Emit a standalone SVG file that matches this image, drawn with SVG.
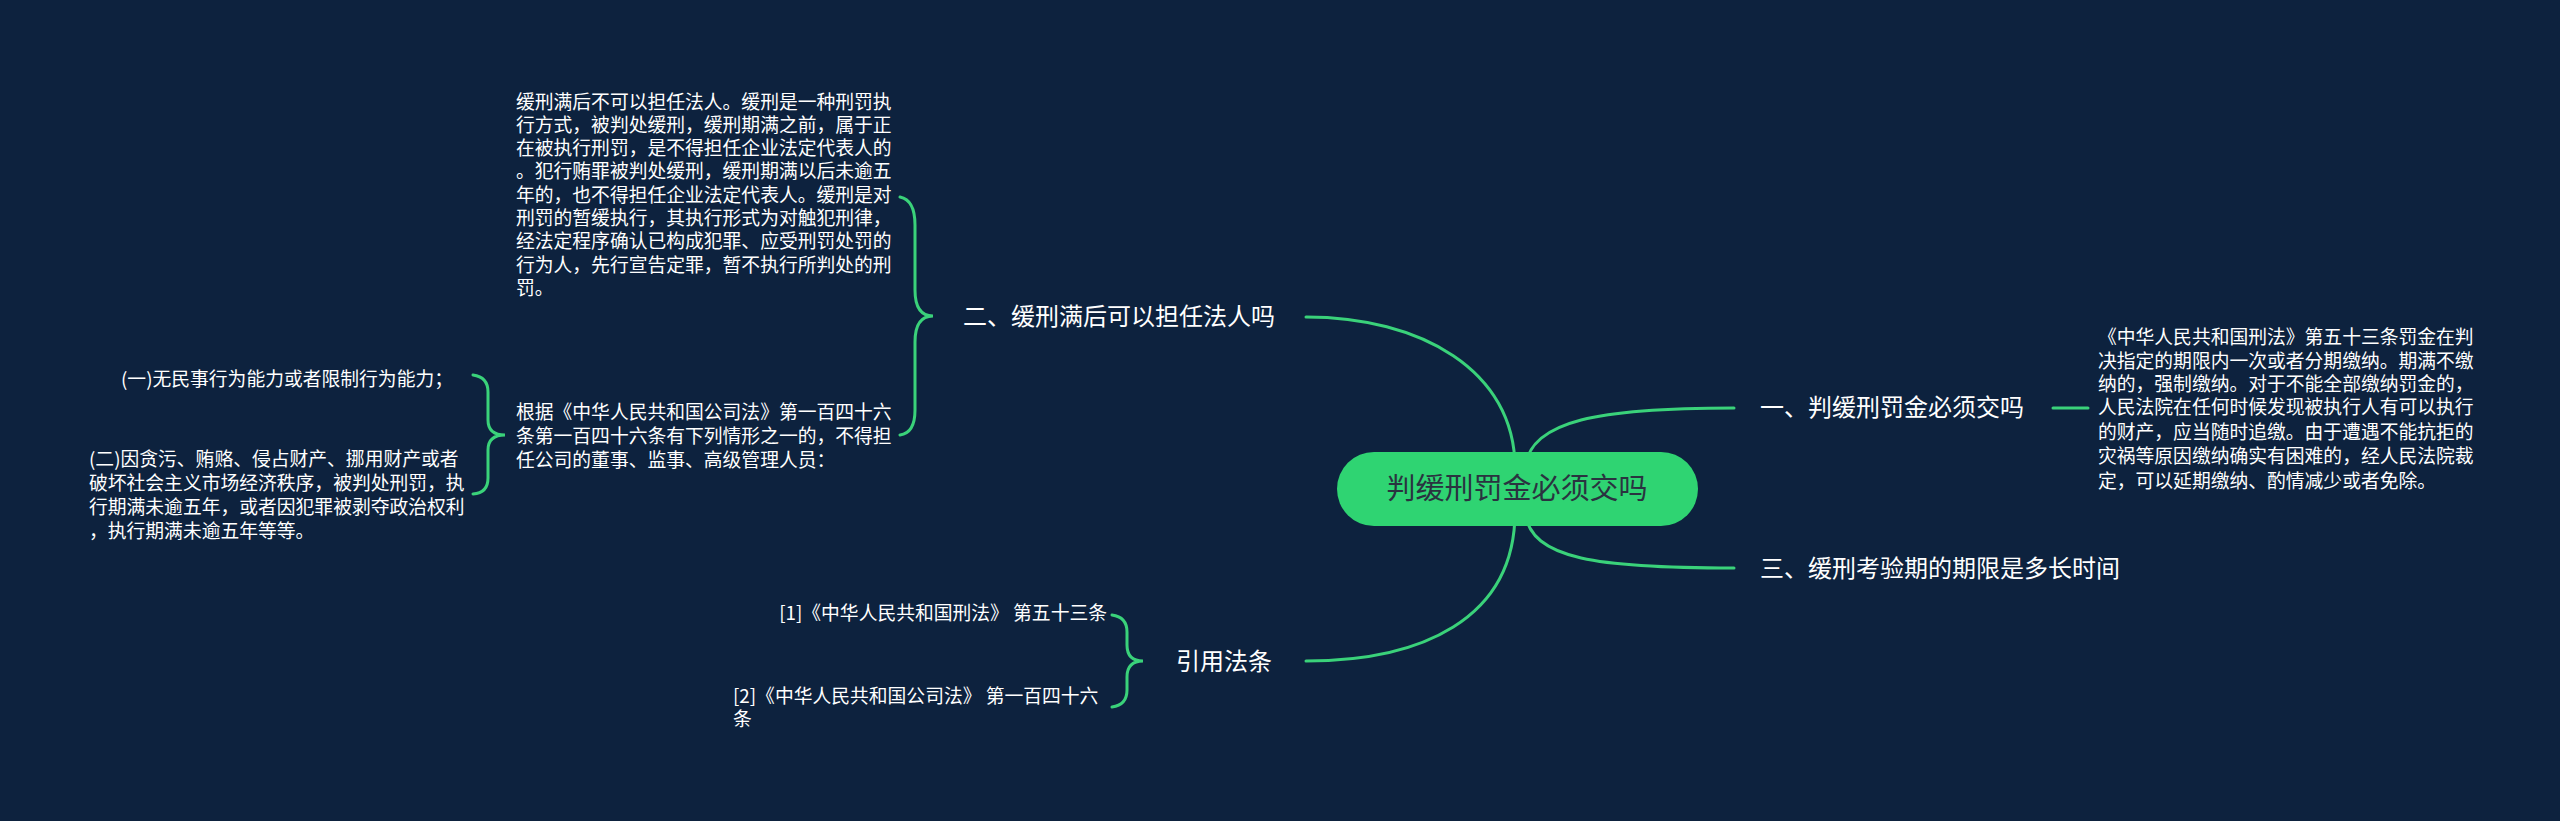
<svg xmlns="http://www.w3.org/2000/svg" width="2560" height="821" viewBox="0 0 2560 821">
<style>
text{font-family:"Noto Sans CJK SC","Liberation Sans",sans-serif;fill:#ffffff}
.leaf{font-size:18.8px}
.br{font-size:24px}
.ln{fill:none;stroke:#3ad27a;stroke-width:3;stroke-linecap:round}
</style>
<rect width="2560" height="821" fill="#0d223e"/>
<g id="connectors">
<path class="ln" d="M1515,468 C1515,370 1420,317 1306,317"/>
<path class="ln" d="M1525,468 C1530,420 1600,408 1734,408"/>
<path class="ln" d="M1525,512 C1530,560 1600,568 1734,568"/>
<path class="ln" d="M1515,512 C1515,620 1420,661 1306,661"/>
<path class="ln" d="M2053,408 H2088"/>
<path class="ln" d="M900,197 Q915,200 915,225 V290 Q915,316 933,316 Q915,316 915,342 V410 Q915,433 900,435"/>
<path class="ln" d="M473,375 Q488,377 488,392 V420 Q488,435 505,435 Q488,435 488,450 V478 Q488,493 473,494"/>
<path class="ln" d="M1112,615 Q1127,617 1127,632 V645 Q1127,661 1143,661 Q1127,661 1127,677 V690 Q1127,705 1112,707"/>
</g>
<g id="center"><rect x="1337" y="452" width="361" height="74" rx="37" fill="#2fd472"/>
<text x="1517" y="499" text-anchor="middle" font-size="29" style="fill:#2a3340">判缓刑罚金必须交吗</text></g>
<g id="b2"><text class="br" x="963" y="325">二、缓刑满后可以担任法人吗</text></g>
<g id="b1"><text class="br" x="1760" y="416">一、判缓刑罚金必须交吗</text></g>
<g id="b3"><text class="br" x="1760" y="577">三、缓刑考验期的期限是多长时间</text></g>
<g id="b4"><text class="br" x="1176" y="670">引用法条</text></g>
<g id="leaf1"><text class="leaf">
<tspan x="516" y="109">缓刑满后不可以担任法人。缓刑是一种刑罚执</tspan>
<tspan x="516" y="132">行方式，被判处缓刑，缓刑期满之前，属于正</tspan>
<tspan x="516" y="155">在被执行刑罚，是不得担任企业法定代表人的</tspan>
<tspan x="516" y="178">。犯行贿罪被判处缓刑，缓刑期满以后未逾五</tspan>
<tspan x="516" y="202">年的，也不得担任企业法定代表人。缓刑是对</tspan>
<tspan x="516" y="225">刑罚的暂缓执行，其执行形式为对触犯刑律，</tspan>
<tspan x="516" y="248">经法定程序确认已构成犯罪、应受刑罚处罚的</tspan>
<tspan x="516" y="272">行为人，先行宣告定罪，暂不执行所判处的刑</tspan>
<tspan x="516" y="295">罚。</tspan></text></g>
<g id="leaf2"><text class="leaf">
<tspan x="516" y="419">根据《中华人民共和国公司法》第一百四十六</tspan>
<tspan x="516" y="443">条第一百四十六条有下列情形之一的，不得担</tspan>
<tspan x="516" y="467">任公司的董事、监事、高级管理人员：</tspan></text></g>
<g id="leaf3"><text class="leaf" x="453" y="386" text-anchor="end">(一)无民事行为能力或者限制行为能力；</text></g>
<g id="leaf4"><text class="leaf">
<tspan x="89" y="466">(二)因贪污、贿赂、侵占财产、挪用财产或者</tspan>
<tspan x="89" y="490">破坏社会主义市场经济秩序，被判处刑罚，执</tspan>
<tspan x="89" y="514">行期满未逾五年，或者因犯罪被剥夺政治权利</tspan>
<tspan x="89" y="538">，执行期满未逾五年等等。</tspan></text></g>
<g id="leaf5"><text class="leaf">
<tspan x="2098" y="344">《中华人民共和国刑法》第五十三条罚金在判</tspan>
<tspan x="2098" y="368">决指定的期限内一次或者分期缴纳。期满不缴</tspan>
<tspan x="2098" y="391">纳的，强制缴纳。对于不能全部缴纳罚金的，</tspan>
<tspan x="2098" y="414">人民法院在任何时候发现被执行人有可以执行</tspan>
<tspan x="2098" y="439">的财产，应当随时追缴。由于遭遇不能抗拒的</tspan>
<tspan x="2098" y="463">灾祸等原因缴纳确实有困难的，经人民法院裁</tspan>
<tspan x="2098" y="488">定，可以延期缴纳、酌情减少或者免除。</tspan></text></g>
<g id="leaf6"><text class="leaf" x="1107" y="620" text-anchor="end">[1]《中华人民共和国刑法》 第五十三条</text></g>
<g id="leaf7"><text class="leaf">
<tspan x="733" y="703">[2]《中华人民共和国公司法》 第一百四十六</tspan>
<tspan x="733" y="726">条</tspan></text></g>
</svg>
